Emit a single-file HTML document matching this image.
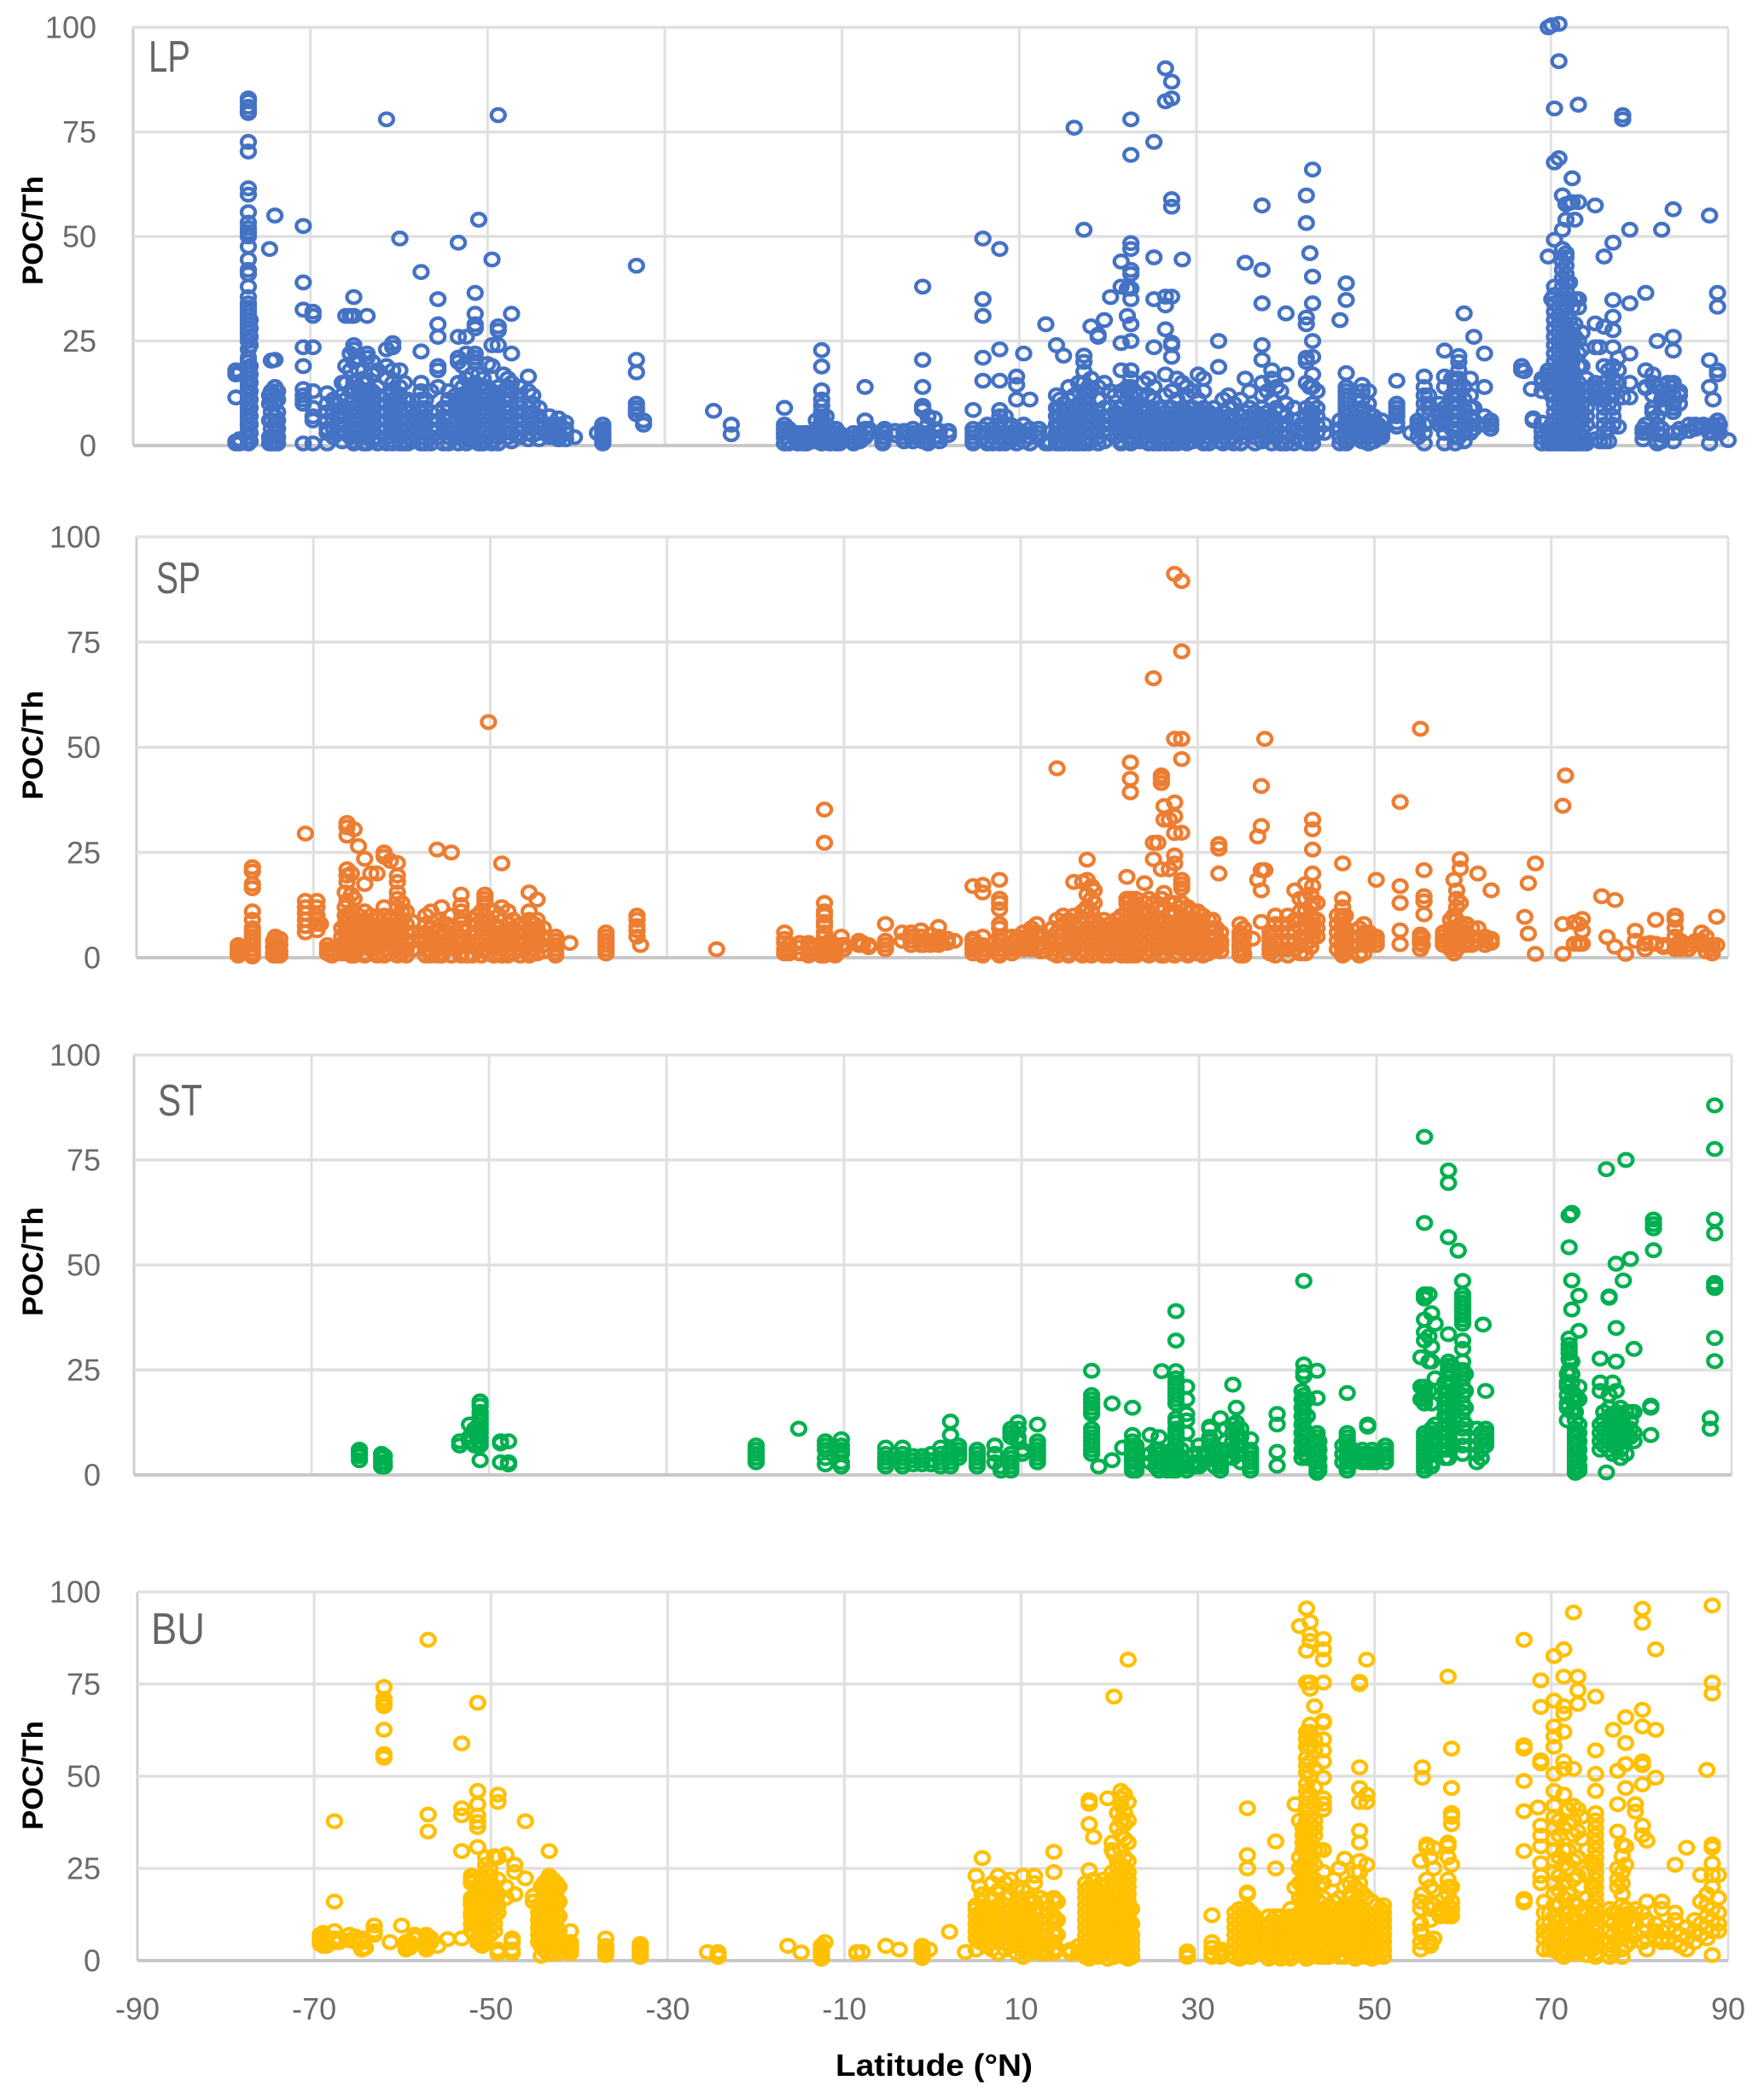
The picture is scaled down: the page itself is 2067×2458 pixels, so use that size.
<!DOCTYPE html>
<html lang="en">
<head>
<meta charset="utf-8">
<title>POC/Th versus latitude</title>
<style>
html,body{margin:0;padding:0;background:#fff;}
svg{display:block;}
text{font-family:"Liberation Sans",sans-serif;}
</style>
</head>
<body>
<svg id="chart" xmlns="http://www.w3.org/2000/svg" width="2067" height="2458" viewBox="0 0 2067 2458">
<rect x="0" y="0" width="2067" height="2458" fill="#ffffff"/>
<text x="979" y="2432" font-size="36" font-weight="700" fill="#000" textLength="231" lengthAdjust="spacingAndGlyphs">Latitude (°N)</text>
</svg>
<script>
const latitudeTicks = [-90,-70,-50,-30,-10,10,30,50,70,90];
const pocTicks = [0,25,50,75,100];

// Each row: latitude, followed by the POC/Th values read at that latitude.
const lpColumns = [
[-78.4,18,17,11.5,1,.5],[-78,17.5,1.5,.5],
[-77,83,82.3,81,80,79.5,72.6,70.3,61.5,60,55.8,53.3,52,51,50,47.6,44.5,42,41,38,35.5,34,33,32,31,30,29,28,27,26,25,23,21,20,18,16,15,14,13,12,11,10,9,8,7,6,5,4,3,2,1,.5],
[-76.8,30,28,26,24,19,17,15,13,11,9,7,5,3,1],
[-74.6,47,12,10,6,2,.5],[-74.4,20.3,13,11,8,6,4,2,.5],[-74,55,20.5,14,12,10,7,5,3,1,.5],[-73.7,13,11,8,6,4,2,.5],
[-70.8,52.5,39,32.5,23.5,19,13.5,12,11,10,.5],[-69.7,32,31,23.5,13,9,7,6,.5],
[-68.1,12.5,10,8,6,4,3,.5],[-67.4,11,8,6,4,2],[-67,10,7,5,3],[-66.4,15,12,9,7,5,3,1],[-66,31,19,15,11,9,7,5,3],[-65.5,31,22,18,13,10,8,6,4,2],
[-65.1,35.5,31,24,23,20,15,13,11,9,7,5,3,1,.5],[-64.6,21,18,14,12,10,8,6,4,2],[-64,16,12,10,8,6,4,2,.5],[-63.6,31,22,21,15,13,11,9,7,5,3,.5],[-63,20,17,13,11,9,7,5,3,1],[-62.4,18,14,12,10,8,6,4,2,.5],
[-61.4,78,23,19,16,12,10,8,6,4,2,.5],[-60.7,24.5,23.5,18,15,13,11,9,7,5,3,1,.5],[-59.9,49.5,18,14,12,10,8,6,4,2,.5],[-59.4,15,11,9,7,5,3,1,.5],[-59,11,8,6,4,2,.5],[-58.4,9,7,5,3,1],
[-57.5,41.5,22.5,15,13,11,9,8,6,4,2,.5],[-57,11,9,7,5,3,.5],[-56.4,13,8,6,4,2,.5],[-55.6,35,29,26,19,18,14,8,6,4,2],[-55,9,7,5,3,.5],[-54.4,13,11,9,6,4,2,.5],
[-53.6,12,10,8,6,4,2],[-53.3,48.5,26,21,20,15,10,8,6,4,2,.5],[-52.8,19,14,12,10,8,6,4,2],[-52.4,26,22,16,12,10,8,6,4,2,.5],[-51.8,17,13,11,9,7,5,3,1],
[-51.4,36.5,31.5,29,28,22,21,20,15,13,11,9,7,5,3,1],[-51,54,17,14,12,10,8,6,4,2,.5],[-50.5,16,13,11,9,7,5,3,1,.5],[-50,19.5,14,12,10,8,6,4,2],[-49.5,44.5,24,19,13,11,9,7,5,3,1,.5],
[-48.8,79,28.5,27.5,24,14,12,10,8,6,4,2,.5],[-48.2,17,13,11,9,7,5,3],[-47.7,16,14,12,8,6,4,2],[-47.3,31.5,22,15,13,9,7,5,3,1],[-46.4,14,12,10,8,6,4,2],[-45.4,16.5,13,9,7,5,3,1.5],[-44.9,12,10,8,6,4,2.5],[-44.2,9,7,5,3,1.5],
[-43,7,5,4,3,2],[-42.7,5,4,3,2],[-42,6.5,5,4,3,2,1.5],[-41.2,5.5,4,3,1.5],[-40.2,2],
[-37.6,3],[-37,5,4,3.5,3,2.5,2,1.5,1,.5],
[-33.2,43,20.5,17.5,10,9,8.5,7.5],[-32.4,6,5],
[-24.5,8.3],[-22.5,5,2.7],
[-16.5,9,5,4,3,2,.5],[-16,4,3,1,.5],[-15,3,2,1,.5],[-14.4,3,2,.5],[-14,3,1,.5],[-13.3,3,2,1],[-12.9,6,4,3,2,1],[-12.3,22.8,18.9,13.2,11,9.5,8,7,6,5,3,2,1,.5],[-11.8,7,5,4,3,2,1],[-11.4,4,3,2,1,.5],[-10.7,4,3,2,1,.5],[-10.3,3,2,1,.5],
[-8.7,3,2,1,.5],[-8,3,2,1],[-7.4,14,6,4,2],[-7,4,3],[-5.4,3.5,2,1,.5],[-5.2,4,3,2],[-4,3.5,2.5],[-3,3.5,3,2,1],[-2,4,3,2,1],[-1.4,3,2],
[-.9,38,20.5,14,9.5,9,8.5,3,1],[-.3,7,5,3,2,1,.5],[.4,6.5,4,2],[1,3.5,2,1],[2,3.5,2.5],
[4.8,8.5,4,3,2,1,.5],[5.9,49.5,35,31,21,15.5,4,3,2],[6.4,5,3,1,.5],[7,4,3,2,.5],[7.8,47,23,15.5,8.5,7,5,4,3,2,.5],[8.4,7,5,3,1,.5],[9,5,3,2,1],
[9.7,16.5,14.5,11,4,3,2,.5],[10.5,22,5,3,1],[11.2,11,4,2,.5],[12.2,4,3,2],[13,29,.5],[13.4,3,1,.5],
[14.2,24,12,9,7,5,3,1,.5],[14.6,11,9,7,5,3,1,.5],[15,21.5,10,8,6,4,2,.5],[15.6,14,11,9,7,5,3,1,.5],[16.2,76,12,8,6,4,2,.5],[16.7,15,10,7,5,3,1,.5],
[17.3,51.6,21.5,20,17.7,15,13,11,9,7,5,3,1,.5],[17.8,14,12,10,8,6,4,2,.5],[18.1,28.5,16,13,9,7,5,3,1],[18.9,26,26.5,14,11,8,6,4,2,.5],[19.6,30,15,9,7,5,3,1],[20.3,35.5,13,9,7,5,3],[20.8,12,8,6,4,2],[21.5,44,38,24.5,18,13,9,7,5,3,1,.5],
[22.2,31,37.5,14,11,8,6,4,2],[22.6,78,69.5,48.4,47,42,41,37.5,35,29,25,18,16,14,12,10,8,6,4,2,.5],[23,13,10,7,5,3,1],[23.6,12,9,7,5,3,1],[24,15,8,6,4,2],[24.6,16,12,9,7,5,3,1,.5],
[25.2,72.6,45,35,23.5,14,11,8,6,4,2,.5],[25.8,9,7,5,3,1,.5],[26.5,90.2,82.3,35.6,33.5,27.8,17,12,8,6,4,2,.5],[27.2,87,83,58.9,57.1,35.6,24.6,24,21.2,13,9,7,5,3,1,.5],[27.8,16,11,8,6,4,2,.5],[28.4,44.5,15,9,7,5,3,1],[28.9,14,12,8,6,4,2,.5],
[29.6,13,9,7,5,3,1],[30.2,17,11,8,6,4,2],[30.8,16,13,9,7,5,3,1,.5],[31.4,8,6,4,2,.5],[32,9,7,5,3],[32.5,25,18.8,7,5,3,1],[33,11,8,6,4,2,.5],[33.6,12,9,7,5,3,1],[34.2,10,6,4,2,.5],[35,11,7,5,3,.5],[35.5,43.7,16,8,6,4,2],[36,13,9,7,5,3],
[36.6,8,6,4,2,.5],[37.4,57.4,42,34,24,20.5,15,12,9,7,5,3,1],[38,13,8,6,4,2],[38.5,18,16,11,7,5,3,.5],[39,14,9,6,4,2],[39.5,13,8,5,3,1,.5],[40.1,31.6,17,10,7,5,2,.5],[41,9,6,4,2,.5],
[41.8,5,3,1],[42.4,59.8,53.2,30.6,29,21,20,15,9,7,5,3,1,.5],[42.8,46,14,8,6,4,2],[43.1,66,40.4,34,25,21.2,17,14,10,8,6,4,2,.5],[43.6,13,9,7,5,3],[44.4,5,3],
[46.2,30,6,4,2,.5],[46.9,38.8,34.8,17.3,14,13,12,11,10,9,8,7,6,5,4,3,2,1,.5],[47.4,8,6,4],[48.7,14.5,13,11,9,8,7,6,5,4,3,2,1],[49.4,13,10,8,6,4,2,.5],[50,7,5,3,1],[50.5,5,3,2],[50.9,6,4,3,2],
[52.6,15.5,10,9,8,7],[52.6,5.5,4.5],[54.2,3],[55,6,5,4,2],[55.7,16.5,14,12,10,8,5,3,.5],[56.2,12,10,9],[57.4,10,8,7,6,5],[58,22.7,16.5,14,9,6,3,.5],[58.8,16,12,10,8,6,4],
[59.2,16,14,12,10,8,6,4,2,.5],[59.6,21.4,20,18,16,14,12,10,8,6,4,2],[60.2,31.6,14,11,9,7,5,3,1],[60.9,16,12,9,7,5,3],[61.3,26,9,6,4],[62.5,22,14,7,5],[63.2,6,5,4]
,[66.7,19,18],[67,17.8],[67.8,13.5],[68,6.5,6],[69,16,15,13,5.5,3.5,2,.5],
[69.7,100,45.2,18,17,16,15,14,4,3,1,.5],[70.1,100.5,35,15,12,5,1,.5],[70.4,80.6,67.7,49.2,38,36,34,32,30,28,26,24,22,20,18,16,14,12,10,8,6,4,2,.5],[70.9,100.8,91.9,68.7,33,31,29,27,25,23,21,19,17,15,13,11,9,7,5,3,1,.5],
[71.3,59.8,51.6,47,44,42,40,38,36,34,32,30,28,26,24,22,20,18,16,14,12,10,8,6,4,2,.5],[71.7,57.7,54,46,45,43,41,39,37,35,33,31,29,27,25,23,21,19,17,15,13,11,9,7,5,3,1,.5],
[72.1,58,39,35,30,27,25,23,21,19,17,15,13,11,9,7,5,3,1,.5],[72.4,63.9,58.2,33,28,24,22,20,18,16,14,12,10,8,6,4,2,.5],[72.7,54,35,29,26,17,14,12,10,8,6,4,2,.5],[73.1,81.5,58.2,35,33,25,22,19,15,13,11,9,7,5,3,1,.5],[73.5,27,23,19,10,8,6,4,2,.5],[74,16,12,9,7,5,1,.5],
[75,57.4,29.2,23.5,15,14,13,12,3,1.5],[75.5,23.5,14,12,11,1],[76,45.2,28.4,19,15,11,9,7,5,3,1],[76.5,18,12,10,4,1],[77,48.5,34.8,30.8,27.6,23.5,19,16,14,12,9,7,5],[77.6,21,18,15,4.5],
[78.1,79,78,11.5],[78.9,51.6,34,22,15,11.5],[80.4,4,3,1.5],[80.7,36.5,18,13.7,14,5,3],[81.5,17,15,12,9,8],[82,25,14,7,5,3,1,.5],[82.5,51.6,14.5,13,11,9,4,2.5,1],[83.2,15,13,12,11],[83.8,56.5,26,22.7,15,14,12,10,9,8,3,1],[84.5,13,12,10,4,3],[85.6,5,3.5],[86.3,5,4],
[87.2,5,4.5],[87.9,55,20.4,14,4.5,3,.5],[88.3,11,5,3],[88.8,36.5,33.2,18,17,6,4],[89,5,3],[90,1.3]
];

const spColumns = [
[-78.5,3,2,1,.5],[-78.1,2.5,1.5],[-76.9,21.5,20.5,17.5,16.5,11,9,7,6,5,4,3,2,1,.3],[-74.5,4,2.5,1,.5],[-74.3,5,4,3,2,1,.5],[-73.8,4.5,3,1.5,.5],
[-70.9,29.5,13.5,12,10.5,9,7.5,6],[-69.6,13.5,12,10,9,8,6.5],[-69.2,8],[-68.4,3,2,1],[-67.9,2,1,.5],
[-66.8,7,5,3,1],[-66.4,15.5,12,10,8,6,4,2],[-66.2,32,31,29,21,19.5,18,13.5,9,5,3,1],[-65.7,20,15,11,7,5,3,1,.5],[-65.4,30.5,14,9,6,4,2,.5],[-64.9,26.5,10,8,6,4,2],[-64.2,23.5,17.5,11,9,7,5,3,1,.5],[-63.5,20,10,8,6,4,2],[-62.8,20,9,7,5,3,1,.5],
[-62,25,24,12,10,8,6,4,2,.5],[-61.3,23,9,7,5,3,1],[-60.5,22.5,19.5,18,15.5,14,12,10,8,6,4,2,.5],[-60,13,11,9,7,5,3,1],[-59.5,11,8,6,4,2,.5],[-58.8,8.5,6,4,2],
[-58,5,4],[-57.3,10,8,6,4,2,.5],[-56.7,11,7,5,3,1,.5],[-56,25.7,9,6,4,2,.5],[-55.5,12,8,5,3,1,.5],[-55,8,6,4,2],[-54.4,25,10,7,5,3,.5],[-53.8,6,4,2],
[-53.3,15,12.5,11,9,7,5,3,1,.5],[-52.6,.5],[-52,9,5,3,.5],[-51.5,10,8,6,4,2],[-51,11,9,7,5,3,.5],[-50.6,15,14,13,10,8,6,4,2],[-50.2,56,9,7,5,3,1],[-49.6,11,8,6,4,2,.5],[-49,10,7,5,3,1],[-48.7,22.4,12,6,4,2,.5],[-48,11,8,6,4,2,.5],[-47.4,9,7,5,3,1],[-46.6,8,6,4,2,.5],
[-45.6,15.5,11,9,7,5,3,1,.5],[-45,8,6,4,2],[-44.7,13.8,9,7,5,3,1],[-44,7,5,3,1.5],[-42.6,5,4,3,2,1,.5],[-41,3.5],
[-36.9,6,5,4,3,2,1],[-33.4,10,9,7.5,6.5,5],[-33,3],[-24.4,2],
[-16.7,6,4.5,3.5,2,1],[-16.2,3,2,1],[-15,3.5,2.5,1],[-14,3.5,2.5,1,.5],[-13.6,3,2,1],[-12.6,3,2,1,.5],[-12.2,35.2,27.3,13,11,10,8.5,7.5,6,5,3,2,1,.5],[-11.6,4,3,2,1],[-11,3,2,1,.5],[-10.3,5,3],[-10,3,2],
[-8.3,4,3],[-7.9,3.5,3],[-7.2,3,2.5],[-5.3,8,4,3,2],
[-3.4,6,4],[-2.4,6,5,4,3],[-1.3,6.5,5,4,3],[-1,4,3],[-.2,5.5,4,3],[.7,7.3,5,4,3],[1,4,3.5],[1.7,4.5,3.5],[2.5,4],
[4.6,17,4.5,4,3,2,1],[5,3,2],[5.7,17.3,15.5,5,3,2,1,.5],[7.6,18.5,14,13,11.5,8,7,5,4,3,2,1,.5],[7.9,4,2],
[9,5,3,2,1],[9.6,5,4,3,2],[10.3,6,4,3,2],[10.7,5,3],[11.2,7,6,4,2],[11.8,8,6,5,3,2],[12.3,5,3,1.5],
[13.6,7,5,3,1],[14.1,45,9,6,4,2,.5],[14.8,10,8,6,4,2],[15.4,9,7,5,3,1,.5],[16,18,10,8,6,4,2],[16.6,7,5,3,1],[17,18,11,8,6,4,2,.5],[17.5,23.3,18.5,15,12,9,7,5,3,1],[18,17,14,11,8,6,4,2,.5],[18.3,16,13,9,7,5,3,1],[18.8,8,6,4,2],[19.4,9,7,5,3,1,.5],[20,8,6,4,2,.5],[20.8,9,7,5,3,1],[21.4,10,8,6,4,2,.5],
[22,19.2,14,13,11,9,7,5,3,1,.5],[22.4,46.4,42.5,39.3,14,12,10,8,6,4,2,.5],[23,14,12,9,7,5,3,1,.5],[23.5,11,8,6,4,2],[24,17.7,13,10,7,5,3,1],[24.5,14,11,9,6,4,2,.5],[25,66.4,27.3,23.4,13,10,8,5,3,1],[25.5,27.3,12,9,7,4,2],[25.9,43.3,42.5,41.5,21,14,11,8,6,3,1,.5],
[26.2,36,32.8,15.4,12,9,7,5,3,1,.5],[26.8,32.8,21,13,10,8,6,4,2],[27.4,91.2,52,36.9,33.6,29.6,24.3,22.4,13,11,8,5,3,.5],[27.9,12,9,7,5,3,1],[28.2,89.5,72.8,52,47.2,29.7,18.5,17.5,16.5,13,10,8,6,4,2],[28.9,12,9,7,5,3,1,.5],[29.4,11,8,6,4,2],[30,11,9,7,5,3,1],[30.6,10,8,6,4,2,.5],[31.2,9,7,5,3,1],[31.7,9,7,5,3,2],[32.1,7,5,3,2],[32.4,27,25.9,20],[32.6,6,4,3,1.5],
[34.8,8,6,5,4,3,2,1,.5],[35.2,7,5,3,1,.5],[36.2,4.5],[37.2,40.8,31.3,20.8,16,8.5],[37.6,52,20.8],[36.8,28.8,18.5],
[38.2,6,5,4,3,2,1],[38.8,10,8,6,4,2,.5],[39.5,8,6,4,2],[40.2,10,8,6,4,2,.5],[41,16,9,6,4,2],[41.6,14,11,9,7,5,3,1],[42.2,17.5,14,11,9,7,5,3,1],[42.8,15,12,10,8,6,4,2.5],[43,32.8,30.5,25.7,20,17,13,9,7,5],[43.5,13,9,7,5],
[45.8,10,8,6,4,2],[46.4,22.4,14,12,10,9,8,7,6,5,4,3,2,1,.5],[46.7,10,7,5,3,1],[48.3,7,5,3,1,.5],[48.8,8,6,5,4,3,1],[49.4,6,5,4,3],[50.2,18.5,5,4,3],
[52.9,37,17,13,6.5,3.2],[55.2,54.4,5.5,4.5,3.5,2],[55.6,20.8,14.6,13.4,10.3],[55.4,3,5],[57.8,6,5,4,3],[58.6,9,7,5,3,2],[59,18.5,10,7,5,3,1],[59.3,16,14,12,9,6,4,2],[59.7,23.4,21.2,13,8,6,4],[60.4,8,6,4,3],[61,7,5,3],[61.7,20,7,4],[62.5,5,4,3],[63.2,16,4.5,3.5],
[67,9.7],[67.4,17.7,5.7],[68.2,22.4,.9],[71.3,36.1,8,.9],[71.6,43.3],[72.6,3.3,8.4],[73.1,3.3,8],[73.5,9.2,6.4,3.3],
[75.7,14.6],[76.3,4.9],[77.2,13.7,2.6],[78.4,.9],[79.5,6.4,4],[80.6,3.3,2],[81.2,3.5],[81.8,9,3.3],[82.7,3,2.5],[84,10,9,7,5,3,2],[84.6,4,3.5,2],[85.5,3,2],[86.3,3.5,4],[87,6,4,3],[87.5,5,3,1.5],[88.2,3,2,1],[88.7,9.7,3]
];

const stColumns = [
[-64.6,6,5.5,5,4.5,3.5],[-62.1,5,4,3,2],[-61.8,4.5,3,2],
[-53.3,8,7],[-52.2,12,9,8],[-51.6,11,10,7],[-51,17.5,16.5,15,14,13,12,11,10,9,8,7,3.5],[-48.7,8,7.5,3],[-47.8,8,3,2.5],
[-19.9,7,6,5,4,3],[-15.1,11],[-12.1,8,7,6,4,2.5],[-10.3,8.5,7,6,5,3,2],
[-5.3,6.5,5,4,3,2],[-3.4,6.5,5,4,3,2],[-2.2,4.5,3.5,2.5],[-1.2,4.5,3.5,2.5],[-.2,5,3.5,2.5],[.9,6.5,5,4,3,2],[2,12.7,9.5,6,5,4,3,2],[2.9,7,6,5,4],
[5,6,5,4,3,2],[7,7,5,3],[7.7,2,1],[8.8,11,10,9,5,4,3,2,1],[9.6,12.5,11,9,8],[10.1,6,5],[11.8,12,8,7,6,5,4,3],
[17.9,24.8,19,18,17,16,15,14.5,11,10,9,8,7,6,5],[18.7,2],[20.2,17,3.5],[21.4,6.5],[22.5,16,9.5,8,7,6,5,4,3,2,1],[22.9,7,5,3,1],
[24.5,9.5,5,3],[25.1,6,4,2],[25.5,9,6,5,4,3,2,1],[25.8,24.7],[26.4,5,3,1],[27,6,3,1],[27.4,39,32,24.7,23,22,21,20,19,18,17,13.5,12.5,11,10,9,8,7,6,5,4,3,2,1],[28,6,4,2],[28.6,21,18,14.5,13,10,7,3,2,1],
[29.5,5,3,2],[30,7,5,3,2],[30.6,5,3],[31.2,11.5,11,9,8,7],[31.8,6,4,2],[32.4,13.5,6,4,3,2,1],[33,11,8,6,4],[33.8,21.5,12,10,8,6,4],[34.2,16,12.5,11,9,7,5],[34.7,11,9,7,5,3],[35.8,8.5,6,5,4,3,2,1],
[38.8,14.5,12,5.5,2.2],
[41.6,20,18,16,14,12,10,8,6,4],[41.8,46.2,26.3,24.5,23.5,19,17,15,13,11,9,7,5],[42.2,18,14,10,6,4],[43.3,24.8,18.3,10,9,8,7,6,5,4,3,2,1,.5],[43.5,8,6,4,2,1],
[46.2,7,5,3],[46.7,19.5,10,9,8,7,6,5,4,3,2,1],[47.3,6,4,3],[48.4,6,5,4,3],[49,12,11.5,5,3],[49.5,6,5,4,3],[50,4,3],[51,7,6,5,4,3],
[55,28,21,18],[55.4,80.5,60,43,42.5,42,37,34,32,21,20,19,18,17,10,9,8,7,6,5,4,3,2,1],[55.9,43,33,27,20],[56.2,38.5,30.5,27,17,11,10,8,6,3,2],[56.6,36,23,12,9,7,5],
[57.7,22,20,18,16,14,12,10,8,6,4],[58.1,72.5,69.5,56.6,33.5,27,26,25,24,22,20,18,16,14,12,10,8,6,4],[58.5,26,24,22,19,17,15,11,7],
[59.2,53.4],[59.7,46.2,43,42,41,40,39,38,37,36,32,30,27,25,24,23,21,19,17,15,13,11,9,7,5],[60,24,20,16,12],[61.3,11,9,7,5,3],[61.8,10,8,6,4],[62,35.8],[62.3,20,11,10,9,8,7],
[71.5,24,22,21,19,17,16,13],[71.7,61.8,54.2,32.5,31,30,29,27.5,25],[72,62.4,46.3,39.4,27,24,22,20,18,15],[72.4,19,18,15,13,11,10,9,8,7,6,5,4,3,2,1,.5,.7],[72.8,42.7,34.3,21,18,12,10,8,6,4,2,1],
[75.2,27.7,22,20,12,10,8,6],[75.6,15,13,11,9,7],[75.9,72.8,.6],[76.2,42.5,42.2,19,16,14,12,10,8,6],[76.6,22,13,11,9,7,5],[77,50.3,35,27,20,15,13,11,9,7],[77.5,16,14,12,10,8,6,4],[77.8,46.3,14,12,10,8],[78.1,75,15,11,9,5],[78.6,51.4,15,13,11,9],[79,30,15,10,8],
[80.9,16.5,16,9.5],[81.2,60.8,59.7,58.7,53.5],[87.6,13.5,11],[88.1,88,77.6,60.8,57.5,45.7,45,44.5,32.6,27.1]
];

const buColumns = [
[-69.3,7,6,5,4.5],[-69,7.5,6,5,4],[-68.6,4],[-67.7,37.8,16,8,6,5],[-67.2,6,5],[-66,7,5.5],[-65.3,6.5,5],[-64.6,6,5,3],[-64.2,3.5],[-63.2,9.5,8,7],[-62.1,74.2,71,70,69,62.6,56,55],
[-61.4,5],[-60.1,9.5],[-59.6,5,4,3],[-59.2,5,3.5],[-58.6,7,6],[-57.3,7,6,5,4,3],[-57.1,87,39.6,35,6,5],[-56.8,6,5],[-56,4],[-54.9,5.8],[-53.3,58.9,41.3,39.4,29.7,6],
[-52.2,23,22,21,17,16,15,13,12,10,8],[-51.9,16,14,12,10,7],[-51.5,69.9,46,42.4,39.4,37.6,36.2,30.8,19,17,15,13,11,9,6,5],[-51,22,20,18,16,14,12,10,8,5,4],[-50.6,28,26,24,18,16,14,12,10,8,6],[-50.1,25,23,21,19,17,15,13,11,9,7],[-49.6,28.3,20,18,16,14,12,10,8],[-49.2,45,43,28,22,18,15,13,3,2],
[-48.3,28.8,20,17],[-47.6,6,5,3,2],[-47.3,26,24,18],[-46.1,37.8,22.3],[-45.2,16,17.5],
[-44.6,15,13,11,9,7,5],[-44.3,1.3,20,14,12,10,8,6,4],[-44,21,19,17,15,13,11,9,7,5,3],[-43.6,22,20,18,16,14,12,10,8,6,4,2],[-43.4,29.7,23,21,19,17,15,13,11,9,7,5],[-43,22,20,18,16,14,12,10,8,6,4,2],[-42.6,21,19,17,15,13,11,9,7,5,3],[-42.3,20,16,12,8,4,2],
[-41,8,5,4,3,2],[-37,6,4,3,2,1.5],[-33.1,4.5,3.5,2.5,1.5,1],[-25.5,2.3],[-24.3,2.3,1.5,1],[-16.4,4],[-14.9,2.2],[-12.6,4,3,2,1,.5],[-12.2,5],[-8.6,2.3,2],[-8,2.3],
[-5.3,4],[-3.8,3],[-1.2,4,3,2.5,2,1,.7],[-.4,3],[1.9,7.8],[3.7,2.3],
[4.9,23,15,14,12,10,8,6,3],[5.3,20,13,11,9,7,5],[5.6,27.8,18,16,12,10,8,6],[6,14,12,10,8,6,4],[6.7,21,17,13,11,9,7,5,3],[7.4,23,19,15,13,11,9,7,5,2],[8.2,21,17,15,13,11,9,7,5,3],[8.8,22,18,14,12,10,8,6,4],[9.5,20,16,14,12,10,8,6,4,2],[10.2,23,19,15,13,11,9,7,5,3,1],[10.9,17,14,12,10,8,6,4,2],[11.5,23,21,16,13,11,9,7,5,3],[12.2,17,13,11,9,7,4,2],[12.8,16,12,8,6,3,2],[13.7,29.5,24,17,16,12,11,10,8,7,5,3,2],[14.1,16,11,7,3],
[15.6,2,3],[16.5,4,2],
[17.3,21,19,17,15,13,11,9,7,5,3,1],[17.7,43.5,42.5,37,24.5,20,18,16,14,12,10,8,6,4,2,.5],[18.2,33.5,22,20,18,16,14,12,10,8,6,4,2],[18.7,19,17,15,13,11,9,7,5,3,1],[19.3,22,20,18,16,14,12,10,8,6,4,2],[19.8,44,21,19,17,15,13,11,9,7,5,3,.5],[20.3,32,30,24,22,20,18,16,14,12,10,8,6,4,2],[20.5,71.6,29,21,17,13,9,5,1],[20.9,40,36,27,25,23,21,19,17,15,13,11,9,7,5,3],
[21.3,46,44,42,38,34,30,26,24,22,20,18,16,14,12,10,8,6,4,2],[21.7,45,40,37,33,28,25,23,21,19,17,15,13,11,9,7,5,3,1],[22.1,81.6,43,38,32,27,24,22,20,18,16,14,12,10,8,6,4,2,.5],[22.5,14,10,7,5,3,1],
[28.8,2.5,1.5,1],[31.6,12.3,5,3.5,2,1],[32.6,3,2,1],
[34.2,13,11,9,7,5,3,1],[34.7,14,12,10,8,6,4,2,.5],[35.2,13,11,9,7,5,3,1],[35.6,41.3,28.6,25,18.5,18,14,12,10,8,6,4,2],[36,13,11,9,7,5,3,1],[36.4,12,10,8,6,4,2],[37,10,8,6,4],
[38,12,10,8,6,4,2,.5],[38.5,11,9,7,5,3,1],[38.8,32.3,25,12,10,8,6,4,2],[39.4,12,10,8,6,4,2,.5],[40,11,9,7,5,3,1],[40.5,14,12,10,8,6,4,2,.5],
[41,42.4,19.8,12,8,5,3],[41.5,90.7,38,28,25,21,17,13,9,5,2],[41.9,36,34,32,30,26,24,22,20,18,16,14,12,10,8,6,4],[42.3,95.5,84,75.4,62,60,58,55,53,51,48,46,44,42,40,38,36,34,32,30,28,26,24,22,20,18,16,14,12,10,8,6,4,2,.5],[42.7,91.8,88.5,86.7,75.4,73.7,64,62,58,54,50,45,41,39,37,35,33,31,29,27,25,23,21,19,17,15,13,11,9,7,5,3,1],
[43.2,69,60,57,52,47,42,38,36,34,30,26,22,18,14,10,6,2],[43.7,30,20,16,12,8,4,1],[44.2,87.2,84.4,81.6,75.4,65,64.5,60,57,54,49.6,44,42.5,41,30,24,21,17,13,9,5,1],
[44.8,15,13,11,9,7,5,3,1],[45.4,22,16,14,12,10,8,6,4,2],[46,25,17,13,11,9,7,5,3,1],[46.6,27.6,20,15,13,11,9,7,5,3,1],[47.2,21,18,14,12,10,8,6,4,2],[47.8,24,20,16,14,12,10,8,6,4,2,.5],[48.3,75.6,75,52.4,46.8,43,35.2,32,27,24,21,19,15,13,11,9,7,5,3,1],[48.7,18,14,12,10,8,6,4,2],[49.1,81.6,45,43,26,17,13,11,9,7,5,3,1],[49.7,16,12,10,8,6,4,2,.5],[50.2,15,13,11,9,7,5,3,1],[50.7,14,12,10,8,6,4,2],[51,15,13,11,9,7,5,3,1],
[55.2,27,16,14,10,8,5,3],[55.4,52.4,49.6,18,7],[55.9,31.5,30.6,22],[56.3,28,20,14,11,5,4],[56.7,30.5,25,19,15,6],[57.4,14,13,12],
[58.3,77,32,31,28,22,20,18,15,13,12],[58.7,57.5,46.8,40,39,37,26,20,16,14,12],
[66.9,87,58.4,57.5,48.7,40.5,29.7,16.7,15.8],[68.5,41.5],[68.8,76,68.8,54.3,53.5,36.6,33.9,31,26.4,23,21],[69.2,16,13,10,8,6,3],[69.8,13,10,7,5,3],
[70.3,82.6,70.5,63.5,60.8,58,50.6,46,42,39,36,33,30,27,24,21,18,15,12,9,6,3],[70.9,38,34,28,23,19,15,11,8,5,2],[71.4,84.4,77,69,67,62,54,52,45,36,30,26,21,17,13,9,6,3,1],[71.9,41,37,30,25,18,14,10,7,4,2],
[72.5,94.4,52,42,38,34,27,22,16,12,8,5,2],[73,77,73.3,69.6,41,35,28,23,15,11,7,4,2],[73.4,39,33,20,13,9,6,3],[74,30,24,17,13,10,7,4,1.5],[74.6,26,20,15,12,9,6,3],[75,71.6,57,50.6,46,40,38,36,34,32,30,28,26,24,22,20,18,16,14,12,10,8,6,4,2,1],
[76.6,14,11,8,5,3,1],[77,62.6,13,10,7,4,2],[77.5,51.5,42.4,35,25,22,20,13,9,6],[78,31.5,28.3,24,21,18,15,12,9,6,3,1],[78.4,66,59,53.3,46.8,31,26,14,11,8,4],[78.9,13,10,7,5],
[79.5,42.4,40.4,14,10,7],[80.3,95.4,91.6,68,63.5,54,53,47.8,36.6,34,13,8,5],[80.8,32.5,16,11,6,3],[81.8,84.4,62.6,49.6,10,8,6],[82.5,16,14,8,6,5],[83.2,9,6,5],[84,26,13,11,8,5],[84.6,7,4],[85.3,30.6,9,6,3],[86.2,11,8,5],[86.9,23.2,16,10,7],[87.6,51.7,18,15,12,9,6],[88.2,96.3,75.4,72.4,31.5,30.6,26.4,23.2,20,14,11,8,1.5],[88.9,23.2,17,13,10,8]
];

const seriesColors = ["#4472C4","#ED7D31","#00B050","#FFC000"];
const panelNames = ["LP","SP","ST","BU"];
const panelColumns = [lpColumns,spColumns,stColumns,buColumns];

// Layout (pixels), kept apart from the data.
const panelFrames = [
  {left:156,right:2025,top:32,bottom:522,labelX:174,labelY:84,labelW:49,tickX:113,titleY:270},
  {left:160,right:2025,top:629,bottom:1122,labelX:183,labelY:695,labelW:52,tickX:118,titleY:873},
  {left:157,right:2029,top:1236,bottom:1728,labelX:185,labelY:1307,labelW:52,tickX:118,titleY:1478},
  {left:161,right:2025,top:1865,bottom:2297,labelX:177,labelY:1926,labelW:63,tickX:118,titleY:2080}
];

const svg = document.getElementById('chart');
const NS = 'http://www.w3.org/2000/svg';
function make(tag, attrs, parent){
  const el = document.createElementNS(NS, tag);
  for (const k in attrs) el.setAttribute(k, attrs[k]);
  parent.appendChild(el);
  return el;
}

panelFrames.forEach(function(f, i){
  const name = panelNames[i].toLowerCase();
  const xScale = function(lat){ return f.left + (lat + 90) * (f.right - f.left) / 180; };
  const yScale = function(v){ return f.bottom - v * (f.bottom - f.top) / 100; };
  const g = make('g', {}, svg);
  
  

  latitudeTicks.forEach(function(t){
    const line = make('line', {x1:xScale(t),x2:xScale(t),y1:f.top,y2:f.bottom,stroke:t===-90?'#CFCFCF':'#E0E0E0','stroke-width':3}, g);
    
    
  });
  pocTicks.forEach(function(t){
    const line = make('line', {x1:f.left,x2:f.right,y1:yScale(t),y2:yScale(t),stroke:t===0?'#C8C8C8':'#E0E0E0','stroke-width':t===0?4:3.5}, g);
    
    
    const label = make('text', {x:f.tickX,y:yScale(t)+12.5,'text-anchor':'end','font-size':36,fill:'#6A6A6A'}, g);
    
    
    label.textContent = t;
  });

  const title = make('text', {transform:'translate(50,'+f.titleY+') rotate(-90)','text-anchor':'middle','font-size':34,'font-weight':700,fill:'#000',textLength:128,lengthAdjust:'spacingAndGlyphs'}, g);
  
  
  title.textContent = 'POC/Th';

  const tag = make('text', {x:f.labelX,y:f.labelY,'font-size':52,fill:'#666666',textLength:f.labelW,lengthAdjust:'spacingAndGlyphs'}, g);
  
  
  tag.textContent = panelNames[i];

  if (i === 3) {
    latitudeTicks.forEach(function(t){
      const label = make('text', {x:xScale(t),y:2366,'text-anchor':'middle','font-size':36,fill:'#6A6A6A'}, g);
      
      
      label.textContent = t;
    });
  }

  panelColumns[i].forEach(function(row){
    const lat = row[0];
    row.slice(1).forEach(function(v){
      const dot = make('ellipse', {cx:xScale(lat),cy:yScale(v),rx:8,ry:7.2,fill:'none',stroke:seriesColors[i],'stroke-width':4.3}, g);
      
      
    });
  });
});
</script>
</body>
</html>
